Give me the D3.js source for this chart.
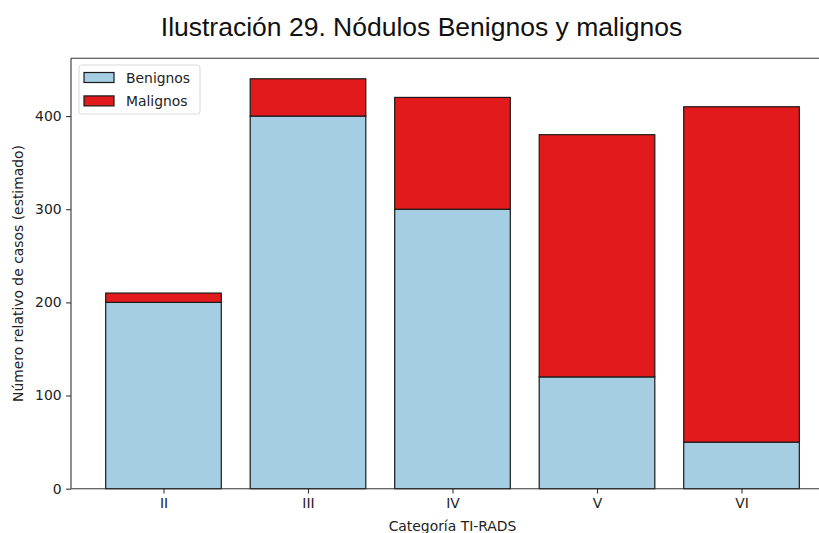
<!DOCTYPE html>
<html><head><meta charset="utf-8">
<script src="https://cdn.jsdelivr.net/npm/d3@7/dist/d3.min.js"></script>
<style>body{margin:0;background:#fff}svg{display:block}</style>
</head><body>
<svg id="c" width="819" height="533"></svg>
<script>
const categories = ["II","III","IV","V","VI"];
const benignos = [200,400,300,120,50];
const malignos = [10,40,120,260,360];
const yTicks = [0,100,200,300,400];
const seriesNames = ["Benignos","Malignos"];
const colors = ["#a6cee3","#e31a1c"];

(function(){
const svg = d3.select("#c");
const pL = 71, pR = 834, pT = 58.3, pB = 488.7;
const x = d3.scaleLinear().domain([-0.64, 4.64]).range([pL, pR]);
const y = d3.scaleLinear().domain([0, 462]).range([pB, pT]);
const bw = 0.8;

svg.append("text").attr("x", 421.5).attr("y", 35.5).attr("text-anchor","middle")
  .attr("font-family","Liberation Sans, Arial, sans-serif").attr("font-size", 26.5)
  .attr("fill","#111").text("Ilustración 29. Nódulos Benignos y malignos");

const g = svg.append("g");
const data = categories.map((c,i)=>({c, i, b:benignos[i], m:malignos[i]}));
g.selectAll("rect.b").data(data).enter().append("rect")
  .attr("x", d=>x(d.i-bw/2)).attr("width", d=>x(d.i+bw/2)-x(d.i-bw/2))
  .attr("y", d=>y(d.b)).attr("height", d=>y(0)-y(d.b))
  .attr("fill", colors[0]).attr("stroke","#1a1a1a").attr("stroke-width",1.2);
g.selectAll("rect.m").data(data).enter().append("rect")
  .attr("x", d=>x(d.i-bw/2)).attr("width", d=>x(d.i+bw/2)-x(d.i-bw/2))
  .attr("y", d=>y(d.b+d.m)).attr("height", d=>y(d.b)-y(d.b+d.m))
  .attr("fill", colors[1]).attr("stroke","#1a1a1a").attr("stroke-width",1.2);

const font = "DejaVu Sans, sans-serif";
svg.append("line").attr("x1",pL).attr("x2",pL).attr("y1",pT).attr("y2",pB).attr("stroke","#333").attr("stroke-width",1.1);
svg.append("line").attr("x1",pL).attr("x2",819).attr("y1",pT).attr("y2",pT).attr("stroke","#333").attr("stroke-width",1.1);
svg.append("line").attr("x1",pL).attr("x2",819).attr("y1",pB).attr("y2",pB).attr("stroke","#333").attr("stroke-width",1.1);

const ya = svg.append("g").attr("transform",`translate(${pL},0)`)
  .call(d3.axisLeft(y).tickValues(yTicks).tickSize(4.9).tickPadding(4.5));
ya.select(".domain").remove();
ya.selectAll("line").attr("stroke","#333").attr("stroke-width",1.1);
ya.selectAll("text").attr("font-family",font).attr("font-size",13.9).attr("fill","#222");

const xa = svg.append("g").attr("transform",`translate(0,${pB})`)
  .call(d3.axisBottom(x).tickValues(d3.range(categories.length)).tickFormat(i=>categories[i]).tickSize(4.9).tickPadding(4.5));
xa.select(".domain").remove();
xa.selectAll("line").attr("stroke","#333").attr("stroke-width",1.1);
xa.selectAll("text").attr("font-family",font).attr("font-size",13.9).attr("fill","#222");

svg.append("text").attr("x", (pL+pR)/2).attr("y", 531).attr("text-anchor","middle")
  .attr("font-family",font).attr("font-size",13.9).attr("fill","#222").text("Categoría TI-RADS");
svg.append("text").attr("transform",`translate(23,${(pT+pB)/2}) rotate(-90)`).attr("text-anchor","middle")
  .attr("font-family",font).attr("font-size",13.9).attr("fill","#222").text("Número relativo de casos (estimado)");

const lg = svg.append("g");
lg.append("rect").attr("x",79).attr("y",65).attr("width",121).attr("height",49).attr("rx",2.5)
  .attr("fill","#fff").attr("fill-opacity",0.8).attr("stroke","#d9d9d9").attr("stroke-width",1);
seriesNames.forEach((n,i)=>{
  const yy = 72.5 + i*23.4;
  lg.append("rect").attr("x",84).attr("y",yy).attr("width",30).attr("height",10)
    .attr("fill",colors[i]).attr("stroke","#1a1a1a").attr("stroke-width",1.2);
  lg.append("text").attr("x",126).attr("y",yy+10).attr("font-family",font).attr("font-size",13.9).attr("fill","#222").text(n);
});
})();
</script>
</body></html>
